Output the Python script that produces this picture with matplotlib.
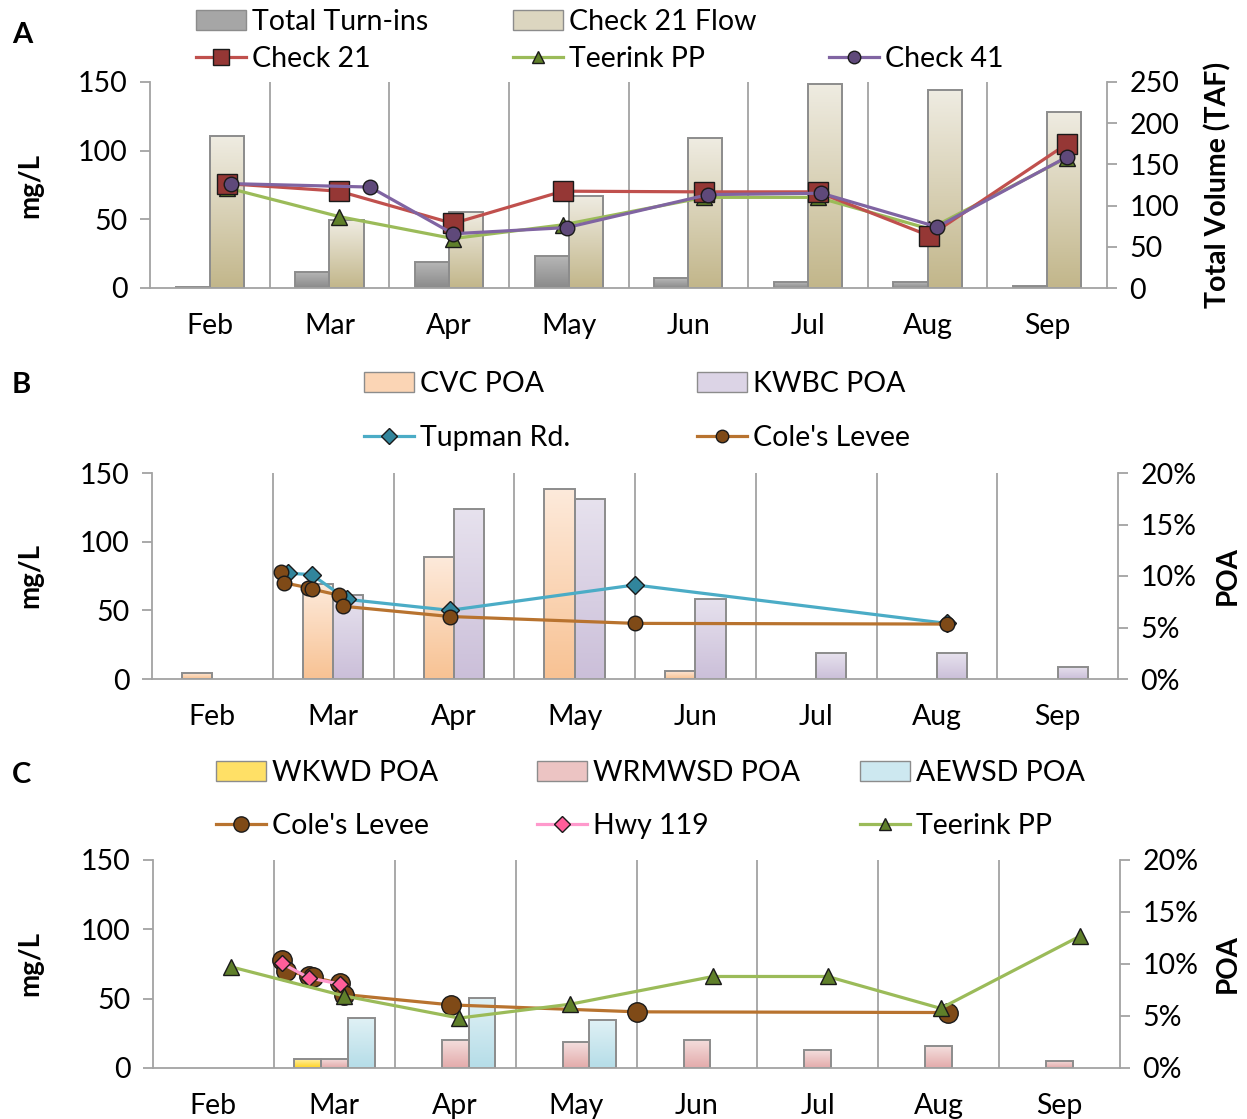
import calendar
import numpy as np
import matplotlib
matplotlib.use('Agg')
import matplotlib.pyplot as plt
from matplotlib.ticker import PercentFormatter
from matplotlib.colors import LinearSegmentedColormap
from matplotlib.lines import Line2D
from matplotlib.patches import Patch

plt.rcParams['font.family'] = ['Lato', 'DejaVu Sans']

# ---------------- data ----------------
YEAR = 2015
months = ['Feb', 'Mar', 'Apr', 'May', 'Jun', 'Jul', 'Aug', 'Sep']
month_nums = [2, 3, 4, 5, 6, 7, 8, 9]

# Panel A
turnins_taf = [1, 20, 32, 39, 12, 7, 7, 2]
check21_flow_taf = [184, 82, 92, 112, 182, 248, 240, 214]
check21_dates = ['02-19', '03-19', '04-17', '05-15', '06-20', '07-19', '08-17', '09-21']
check21_mgl = [76, 70.5, 47, 70.5, 70, 70, 38, 105]
teerink_dates = ['02-19', '03-19', '04-17', '05-15', '06-20', '07-19', '08-17', '09-21']
teerink_mgl = [73, 52, 36, 46, 66, 66, 43, 95]
check41_dates = ['02-20', '03-27', '04-17', '05-16', '06-21', '07-20', '08-19', '09-21']
check41_mgl = [76, 73.5, 39.5, 44, 68, 69, 44.5, 95.5]

# Panel B
cvc_poa = [0.6, 9.2, 11.8, 18.4, 0.8, 0, 0, 0]
kwbc_poa = [0, 8.2, 16.5, 17.5, 7.8, 2.5, 2.5, 1.2]
tupman_dates = ['03-05', '03-11', '03-20', '04-15', '06-01', '08-19']
tupman_mgl = [77, 76, 58, 50, 68.5, 40.5]
coles_dates = ['03-03', '03-04', '03-10', '03-11', '03-18', '03-19', '04-15', '06-01', '08-19']
coles_mgl = [78, 70, 66.5, 65.5, 61, 53, 45.5, 40.5, 40]

# Panel C
wkwd_poa = [0, 0.9, 0, 0, 0, 0, 0, 0]
wrmwsd_poa = [0, 0.9, 2.7, 2.5, 2.7, 1.7, 2.1, 0.7]
aewsd_poa = [0, 4.8, 6.7, 4.6, 0, 0, 0, 0]
hwy119_dates = ['03-03', '03-10', '03-18']
hwy119_mgl = [75.5, 65, 60.5]

# ---------------- helpers ----------------
W, H = 1247, 1119
fig = plt.figure(figsize=(W / 100, H / 100), dpi=100)

GRID = '#a3a3a3'
EDGE = '#8c8c8c'
FS = 20.5
LFS = 20.5


def date_pos(datestrs):
    out = []
    for s in datestrs:
        m, d = (int(v) for v in s.split('-'))
        idx = month_nums.index(m)
        nd = calendar.monthrange(YEAR, m)[1]
        out.append(idx - 0.5 + (d - 1) / nd)
    return np.array(out)


def px_axes(l, r, t, b):
    return fig.add_axes([l / W, 1 - b / H, (r - l) / W, (b - t) / H])


def gradient_bars(ax, offset, values, width, top_c, bot_c):
    cmap = LinearSegmentedColormap.from_list('g', [bot_c, top_c])
    grad = np.linspace(0, 1, 256).reshape(-1, 1)
    x = np.arange(len(values)) + offset
    vals = np.array(values, dtype=float)
    keep = vals > 0
    bars = ax.bar(x[keep], vals[keep], width, facecolor='none', edgecolor=EDGE,
                  linewidth=1.4, zorder=3)
    for b in bars:
        x0, w, h = b.get_x(), b.get_width(), b.get_height()
        im = ax.imshow(grad, cmap=cmap, origin='lower', extent=[x0, x0 + w, 0, h],
                       aspect='auto', zorder=2, interpolation='bilinear')
        im.set_clip_path(b)
    return bars


def style_axes(ax, ax2, ylim2, yticks2, pct):
    ax.set_xlim(-0.5, 7.5)
    ax.set_ylim(0, 150)
    ax.set_yticks([0, 50, 100, 150])
    ax2.set_ylim(*ylim2)
    ax2.set_yticks(yticks2)
    if pct:
        ax2.yaxis.set_major_formatter(PercentFormatter(100, decimals=0))
    ax.set_zorder(ax2.get_zorder() + 1)
    ax.patch.set_visible(False)
    ax.set_xticks(range(8))
    ax.set_xticklabels(months)
    for a in (ax, ax2):
        for s in a.spines.values():
            s.set_color(GRID)
            s.set_linewidth(1.3)
        a.spines['top'].set_visible(False)
    ax.spines['right'].set_visible(False)
    ax2.spines['left'].set_visible(False)
    ax2.spines['bottom'].set_visible(False)
    ax.tick_params(axis='x', length=0, pad=18, labelsize=FS, colors='#000000')
    ax.tick_params(axis='y', direction='out', length=7, width=1.3, color=GRID,
                   pad=9, labelsize=FS)
    ax2.tick_params(axis='y', direction='out', length=7, width=1.3, color=GRID,
                    pad=9, labelsize=FS)
    ax2.tick_params(axis='x', length=0, labelbottom=False)
    for xs in np.arange(0.5, 7.5, 1.0):
        ax.axvline(xs, color=GRID, lw=1.3, zorder=0)


def legend_entry(handle, label, x, y):
    fig.legend([handle], [label], loc='center left', bbox_to_anchor=(x / W, 1 - y / H),
               frameon=False, fontsize=LFS, handlelength=1.75, handleheight=0.7,
               handletextpad=0.2, borderpad=0, borderaxespad=0)


def line(ax, x, y, color, marker, mfc, ms, lw=2.3, mew=1.0):
    ax.plot(x, y, color=color, lw=lw, marker=marker, mfc=mfc, mec='#1a1a1a',
            ms=ms, mew=mew, zorder=5, solid_joinstyle='round')


def line_handle(color, marker, mfc, ms):
    return Line2D([], [], color=color, lw=2.3, marker=marker, mfc=mfc, mec='#1a1a1a',
                  ms=ms, mew=1.0)


C21_LINE, C21_MK = '#c0504d', '#953735'
TEE_LINE, TEE_MK = '#9bbb59', '#5f7f2a'
C41_LINE, C41_MK = '#8064a2', '#5f497a'
TUP_LINE, TUP_MK = '#4bacc6', '#31859c'
COL_LINE, COL_MK = '#b8732f', '#7f4a17'
HWY_LINE, HWY_MK = '#ff99cc', '#ff5e9a'

# ---------------- Panel A ----------------
axA = px_axes(150, 1107, 82, 288)
axA2 = axA.twinx()
bw = 0.2857
gradient_bars(axA2, -bw / 2, turnins_taf, bw, '#b8b8b8', '#8a8a8a')
gradient_bars(axA2, bw / 2, check21_flow_taf, bw, '#efece2', '#c2b68a')
line(axA, date_pos(teerink_dates), teerink_mgl, TEE_LINE, '^', TEE_MK, 11)
line(axA, date_pos(check21_dates), check21_mgl, C21_LINE, 's', C21_MK, 14)
line(axA, date_pos(check41_dates), check41_mgl, C41_LINE, 'o', C41_MK, 10.5)
style_axes(axA, axA2, (0, 250), [0, 50, 100, 150, 200, 250], False)

legend_entry(Patch(facecolor='#a6a6a6', edgecolor=EDGE), 'Total Turn-ins', 196, 22)
legend_entry(Patch(facecolor='#dcd6c0', edgecolor=EDGE), 'Check 21 Flow', 513, 22)
legend_entry(line_handle(C21_LINE, 's', C21_MK, 11), 'Check 21', 196, 59)
legend_entry(line_handle(TEE_LINE, '^', TEE_MK, 9), 'Teerink PP', 513, 59)
legend_entry(line_handle(C41_LINE, 'o', C41_MK, 9), 'Check 41', 829, 59)

# ---------------- Panel B ----------------
axB = px_axes(152, 1118, 473, 679)
axB2 = axB.twinx()
bw = 0.25
gradient_bars(axB2, -bw / 2, cvc_poa, bw, '#fdeadb', '#f8c293')
gradient_bars(axB2, bw / 2, kwbc_poa, bw, '#e7e2ee', '#cbbfd9')
line(axB, date_pos(tupman_dates), tupman_mgl, TUP_LINE, 'D', TUP_MK, 9.5)
line(axB, date_pos(coles_dates), coles_mgl, COL_LINE, 'o', COL_MK, 10.5)
style_axes(axB, axB2, (0, 20), [0, 5, 10, 15, 20], True)

legend_entry(Patch(facecolor='#fbd5b5', edgecolor=EDGE), 'CVC POA', 364, 384)
legend_entry(Patch(facecolor='#dcd4e6', edgecolor=EDGE), 'KWBC POA', 697, 384)
legend_entry(line_handle(TUP_LINE, 'D', TUP_MK, 8), 'Tupman Rd.', 364, 438)
legend_entry(line_handle(COL_LINE, 'o', COL_MK, 9), "Cole's Levee", 697, 438)

# ---------------- Panel C ----------------
axC = px_axes(153, 1120, 860, 1068)
axC2 = axC.twinx()
bw = 0.2222
gradient_bars(axC2, -bw, wkwd_poa, bw, '#fff3b3', '#ffd21f')
gradient_bars(axC2, 0, wrmwsd_poa, bw, '#f4dfde', '#e3aaaa')
gradient_bars(axC2, bw, aewsd_poa, bw, '#e0f1f5', '#b5dde8')
line(axC, date_pos(coles_dates), coles_mgl, COL_LINE, 'o', COL_MK, 14)
line(axC, date_pos(hwy119_dates), hwy119_mgl, HWY_LINE, 'D', HWY_MK, 8.5)
line(axC, date_pos(teerink_dates), teerink_mgl, TEE_LINE, '^', TEE_MK, 11)
style_axes(axC, axC2, (0, 20), [0, 5, 10, 15, 20], True)

legend_entry(Patch(facecolor='#ffe066', edgecolor=EDGE), 'WKWD POA', 216, 773)
legend_entry(Patch(facecolor='#ecc4c3', edgecolor=EDGE), 'WRMWSD POA', 537, 773)
legend_entry(Patch(facecolor='#cde8f0', edgecolor=EDGE), 'AEWSD POA', 860, 773)
legend_entry(line_handle(COL_LINE, 'o', COL_MK, 11), "Cole's Levee", 216, 826)
legend_entry(line_handle(HWY_LINE, 'D', HWY_MK, 8), 'Hwy 119', 537, 826)
legend_entry(line_handle(TEE_LINE, '^', TEE_MK, 9), 'Teerink PP', 860, 826)

# ---------------- labels ----------------
for letter, yy in (('A', 35), ('B', 385), ('C', 775)):
    fig.text(12 / W, 1 - yy / H, letter, fontsize=21, fontweight='bold', va='center', ha='left')
for yy in (185, 576, 964):
    fig.text(30 / W, 1 - yy / H, 'mg/L', fontsize=20, fontweight='bold', rotation=90,
             va='center', ha='center')
fig.text(1218 / W, 1 - 185 / H, 'Total Volume (TAF)', fontsize=20.5, fontweight='bold',
         rotation=90, va='center', ha='center')
for yy in (576, 964):
    fig.text(1228 / W, 1 - yy / H, 'POA', fontsize=20, fontweight='bold', rotation=90,
             va='center', ha='center')

fig.savefig('out.png', dpi=100)
